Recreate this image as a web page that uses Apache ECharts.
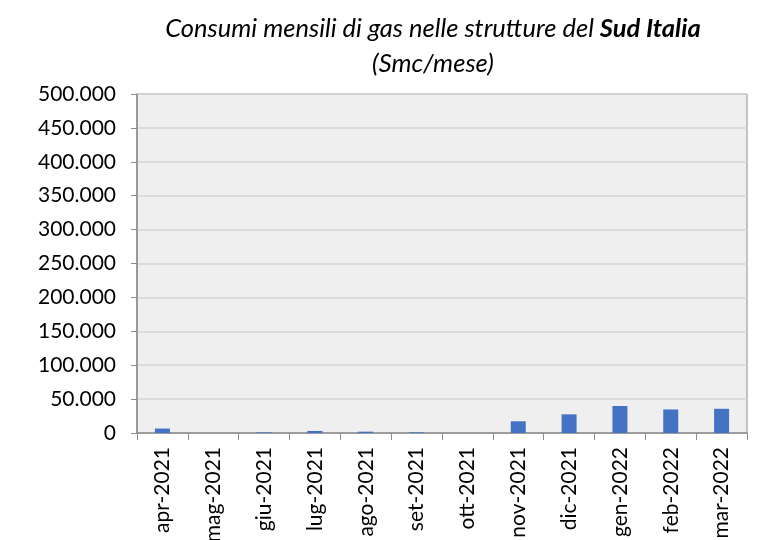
<!DOCTYPE html>
<html>
<head>
<meta charset="utf-8">
<script src="https://cdn.jsdelivr.net/npm/echarts@6/dist/echarts.min.js"></script>
<style>
  html, body { margin: 0; padding: 0; background: #fff; }
  #chart { width: 757px; height: 540px; }
</style>
</head>
<body>
<div id="chart"></div>
<script>
// mesi e consumi (Smc/mese)
var mesi = ['apr-2021', 'mag-2021', 'giu-2021', 'lug-2021', 'ago-2021', 'set-2021',
  'ott-2021', 'nov-2021', 'dic-2021', 'gen-2022', 'feb-2022', 'mar-2022'];
var consumi = [6600, 0, 1000, 3000, 2000, 1000, 0, 17300, 27500, 39800, 34700, 35700];
var yMax = 500000;
var yStep = 50000;

function fmt(v) {
  // separatore delle migliaia all'italiana
  return String(v).replace(/\B(?=(\d{3})+(?!\d))/g, '.');
}

var chart = echarts.init(document.getElementById('chart'));
chart.setOption({
  animation: false,
  title: {
    text: '{a|Consumi mensili di gas nelle strutture del }{b|Sud Italia}\n{a|(Smc/mese)}',
    left: 428,
    top: 6,
    textAlign: 'center',
    textStyle: {
      fontWeight: 'normal',
      rich: {
        a: { fontFamily: 'Lato', fontStyle: 'italic', fontWeight: 'normal', fontSize: 25.5, color: '#000', lineHeight: 35, align: 'center' },
        b: { fontFamily: 'Lato', fontStyle: 'italic', fontWeight: 'bold', fontSize: 25.5, color: '#000', lineHeight: 35 }
      }
    }
  },
  grid: {
    left: 137, right: 10, top: 94, bottom: 107,
    outerBoundsMode: 'none',
    containLabel: false,
    show: true,
    backgroundColor: '#efefef',
    borderColor: '#8c8c8c',
    borderWidth: 1
  },
  xAxis: {
    type: 'category',
    data: mesi,
    axisLine: { lineStyle: { color: '#8c8c8c', width: 1.5 } },
    axisTick: { show: true, length: 7, lineStyle: { color: '#8c8c8c' } },
    axisLabel: { rotate: 90, color: '#000', fontFamily: 'Lato', fontSize: 21, margin: 14 }
  },
  yAxis: {
    type: 'value',
    min: 0,
    max: yMax,
    interval: yStep,
    axisLine: { show: true, lineStyle: { color: '#8c8c8c', width: 1.5 } },
    axisTick: { show: true, length: 6, lineStyle: { color: '#8c8c8c' } },
    splitLine: { lineStyle: { color: '#d6d6d6', width: 1.5 } },
    axisLabel: { color: '#000', fontFamily: 'Lato', fontSize: 21, margin: 21, formatter: fmt }
  },
  series: [{
    type: 'bar',
    data: consumi,
    barWidth: 15,
    itemStyle: { color: '#4472c4' }
  }]
});
</script>
</body>
</html>
